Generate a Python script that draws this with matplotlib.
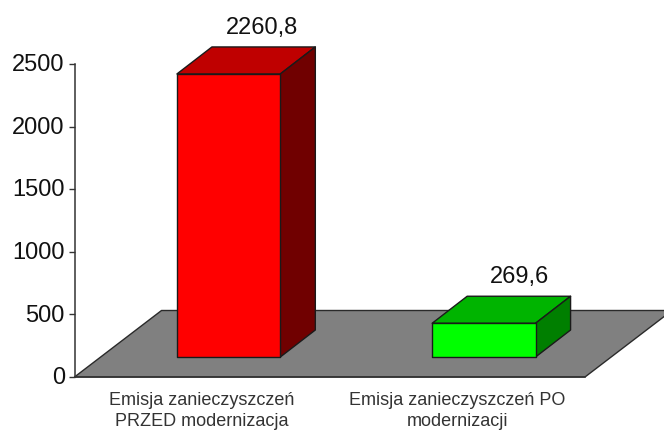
import matplotlib
matplotlib.use("Agg")
import matplotlib.pyplot as plt
from matplotlib.patches import Polygon
from matplotlib.transforms import ScaledTranslation

plt.rcParams['font.family'] = ['Liberation Sans', 'DejaVu Sans']

categories = ["Emisja zanieczyszczeń\nPRZED modernizacja", "Emisja zanieczyszczeń PO\nmodernizacji"]
values = [2260.8, 269.6]
value_labels = ["2260,8", "269,6"]
yticks = [0, 500, 1000, 1500, 2000, 2500]
front_colors = ["#FF0000", "#00FF00"]
top_colors = ["#BF0000", "#00B400"]
side_colors = ["#700000", "#007F00"]

W, H = 664, 430
L, R, T, B = 74.5, 585.0, 64.0, 377.0   # plot box in pixels
fig = plt.figure(figsize=(W / 100, H / 100), dpi=100)
ax = fig.add_axes([L / W, 1 - B / H, (R - L) / W, (B - T) / H])
ax.set_xlim(0, 2)
ax.set_ylim(0, 2500)
ax.patch.set_visible(False)

px_x = 2 / (R - L)
px_y = 2500 / (B - T)
edge = "#1a1a1a"
label_dx = [33, 35.5]


def poly(points, fc, ec=edge, lw=1.0, z=2):
    ax.add_patch(Polygon(points, closed=True, facecolor=fc, edgecolor=ec,
                         linewidth=lw, clip_on=False, zorder=z, joinstyle='round'))


# floor
fdx, fdy = 87 * px_x, 66.5 * px_y
poly([(0, 0), (2, 0), (2 + fdx, fdy), (fdx, fdy)], "#808080", ec="#2a2a2a", lw=1.0, z=1)

# bars
half = 51.7 * px_x
shift = 26.5 * px_x
base = 20 * px_y
ddx, ddy = 35 * px_x, 27 * px_y
for i, v in enumerate(values):
    c = i + 0.5 + shift
    x0, x1 = c - half, c + half
    y0, y1 = base, base + v
    poly([(x0, y0), (x1, y0), (x1, y1), (x0, y1)], front_colors[i], z=4)
    poly([(x0, y1), (x1, y1), (x1 + ddx, y1 + ddy), (x0 + ddx, y1 + ddy)], top_colors[i], z=3)
    poly([(x1, y0), (x1 + ddx, y0 + ddy), (x1 + ddx, y1 + ddy), (x1, y1)], side_colors[i], z=3)
    ax.text(c + label_dx[i] * px_x, y1 + ddy + 19.3 * px_y, value_labels[i], ha='center', va='center',
            fontsize=17, color="#111111", zorder=5, clip_on=False)

for s in ['top', 'right']:
    ax.spines[s].set_visible(False)
for s in ['left', 'bottom']:
    ax.spines[s].set_color("#333333")
    ax.spines[s].set_linewidth(1.1)
    ax.spines[s].set_zorder(6)

ax.set_yticks(yticks)
ax.set_yticklabels([str(t) for t in yticks], fontsize=17, color="#111111")
ax.tick_params(axis='y', length=4, width=1.0, color="#333333", pad=3)
nudge = ScaledTranslation(0, -1.3 / 100, fig.dpi_scale_trans)
for lab in ax.get_yticklabels():
    lab.set_verticalalignment('center')
    lab.set_transform(lab.get_transform() + nudge)
ax.set_xticks([0.5, 1.5])
ax.set_xticklabels(categories, fontsize=13, color="#333333", linespacing=1.3)
ax.tick_params(axis='x', length=0, pad=11)

fig.savefig("out.png", dpi=100)
